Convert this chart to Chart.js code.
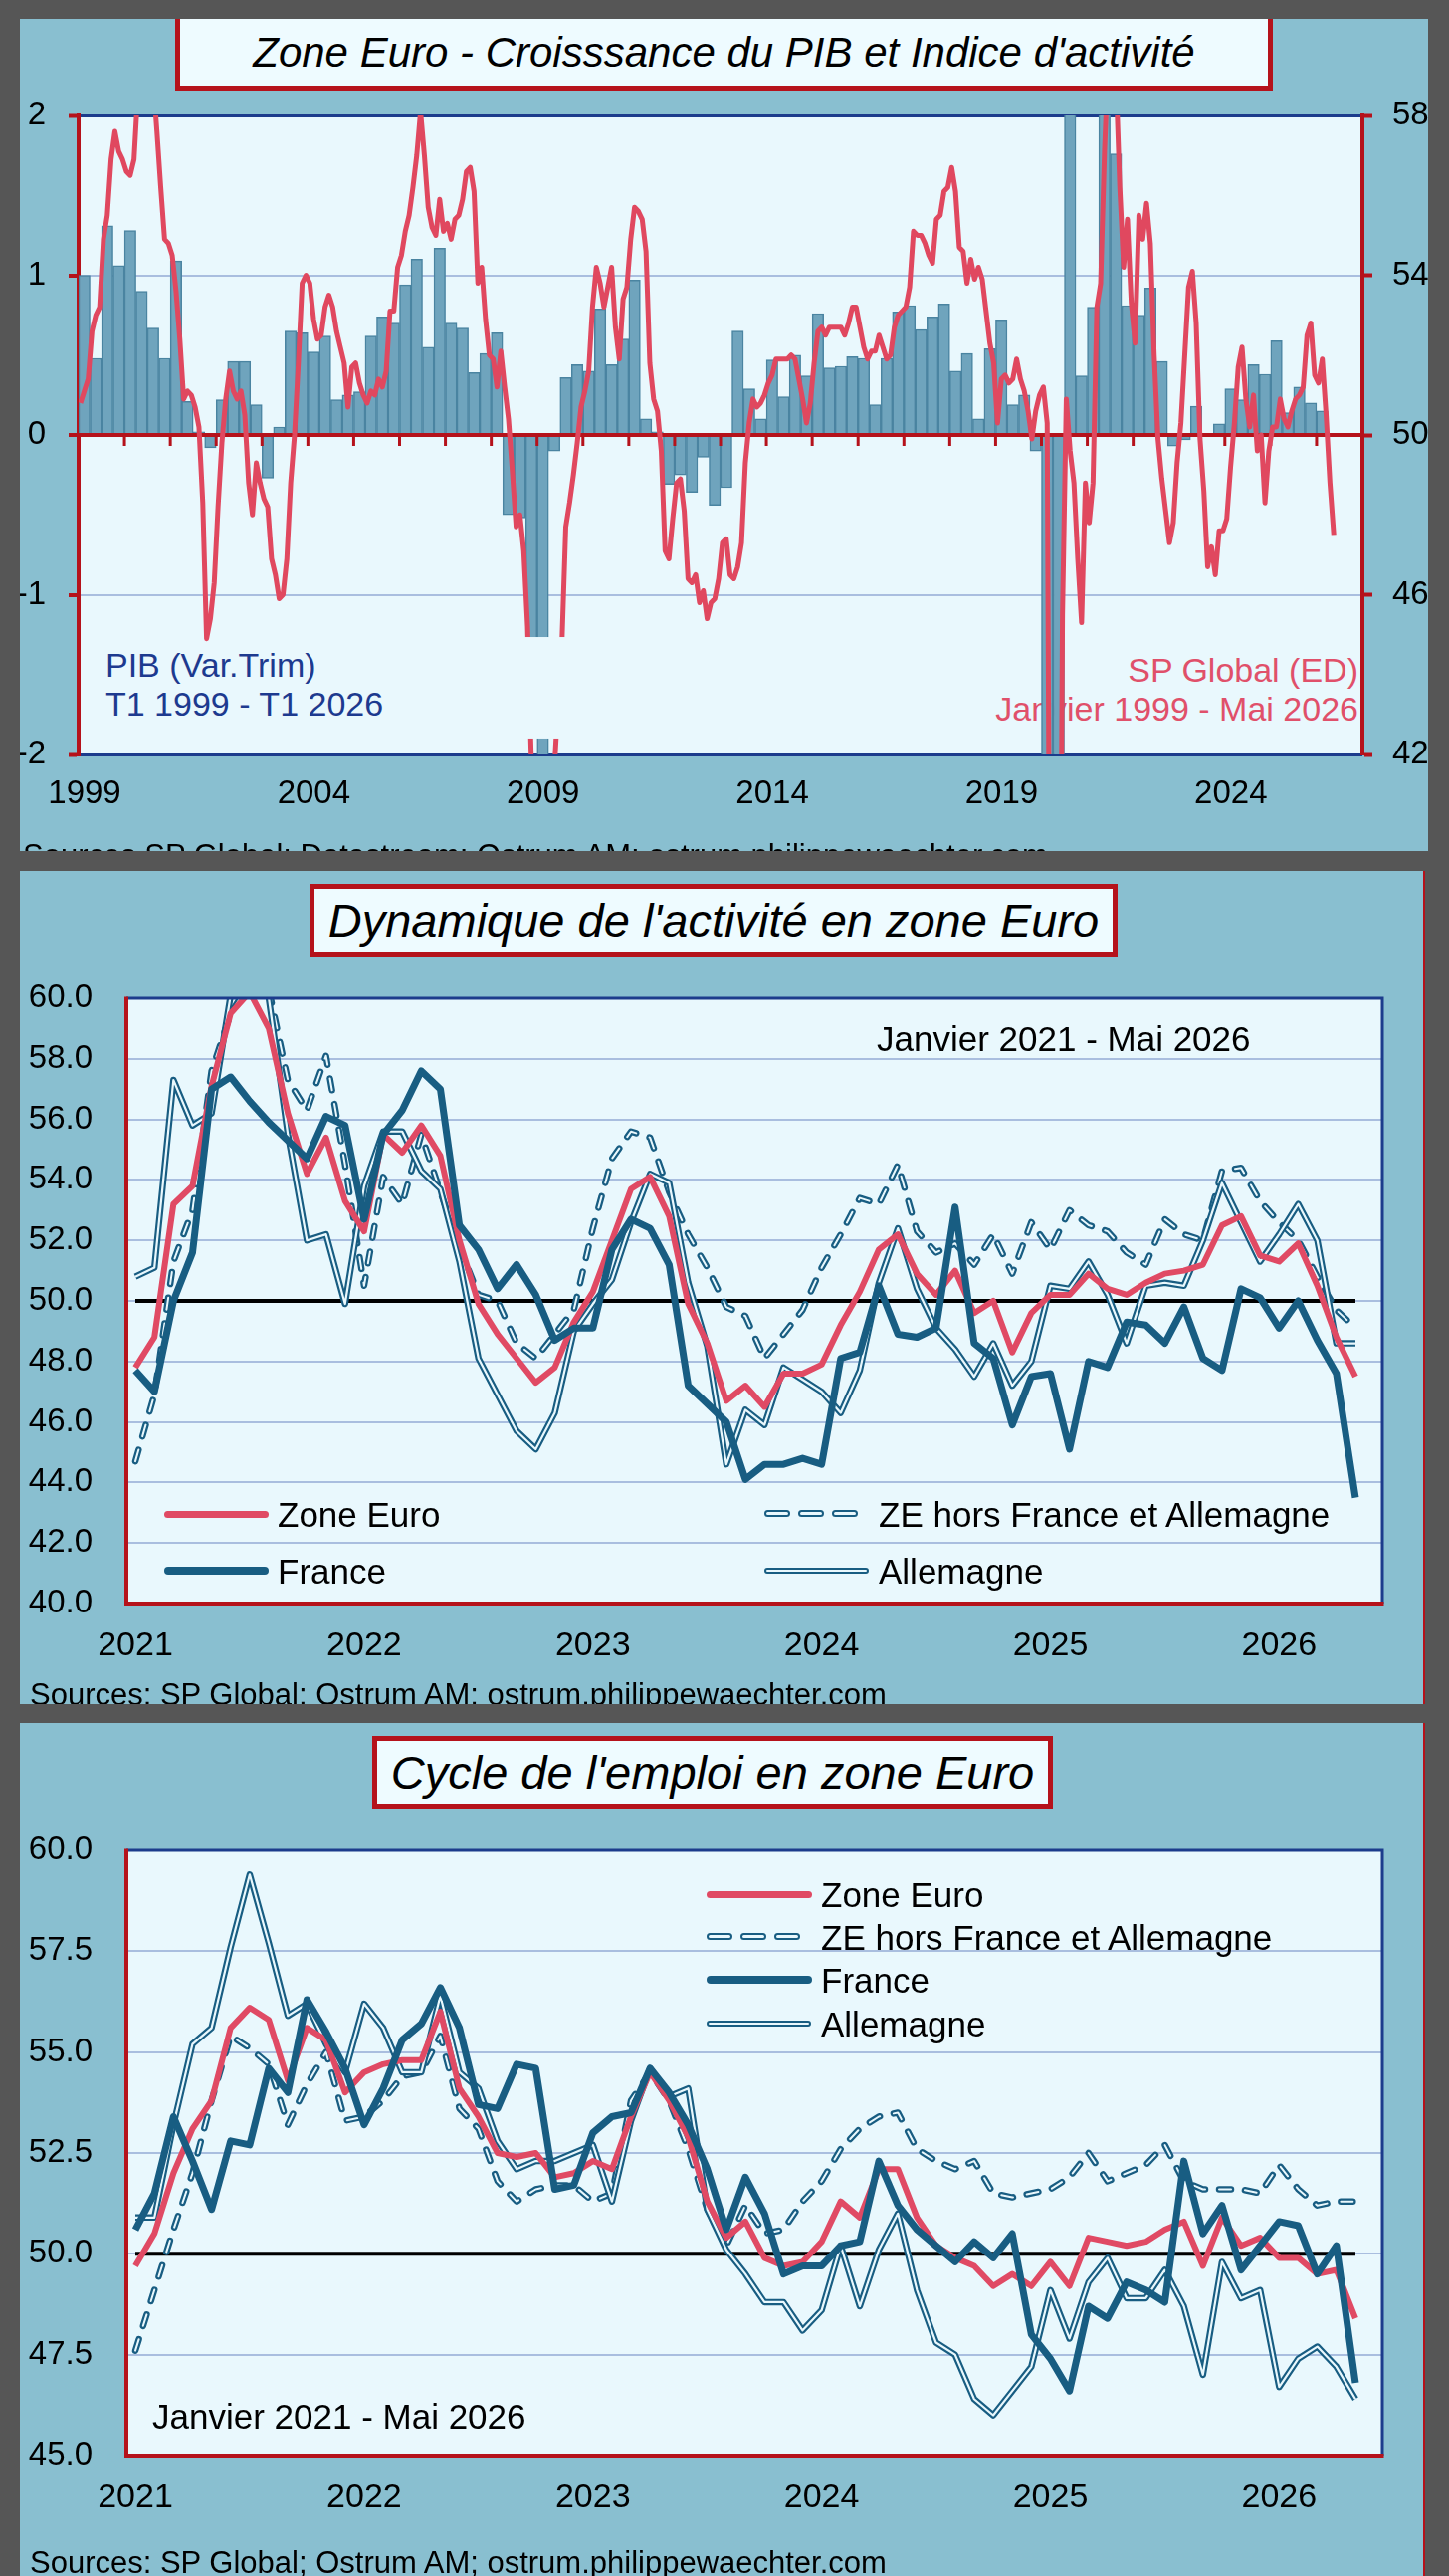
<!DOCTYPE html>
<html lang="fr">
<head>
<meta charset="utf-8">
<title>Zone Euro - PIB et indices d'activité</title>
<script src="https://cdn.jsdelivr.net/npm/chart.js@4.4.1/dist/chart.umd.min.js"></script>
<style>
  body { margin: 0; background: #565656; width: 1456px; height: 2588px; position: relative; overflow: hidden;
         font-family: "Liberation Sans", Arial, Helvetica, sans-serif; color: #000; }
  .panneau { position: absolute; left: 20px; background: #89bfd0; overflow: hidden; }
  .panneau canvas { position: absolute; left: 0; top: 0; }
  .fond { position: absolute; background: #e9f8fd; }
  .titre { position: absolute; box-sizing: border-box; background: #eefbff; border: 5px solid #b5121b;
           display: flex; align-items: center; justify-content: center; font-style: italic; white-space: nowrap; }
  .txt { position: absolute; white-space: nowrap; }
  .source { position: absolute; font-size: 31px; line-height: 31px; white-space: nowrap; }
  .leg { position: absolute; font-size: 35px; line-height: 35px; white-space: nowrap; }
  .ech { position: absolute; border-radius: 4px; }
  .double { box-sizing: content-box; height: 2px; border: 2.5px solid #185d82; background: #e9f8fd; }
  .tirets { position: absolute; display: flex; gap: 8px; }
  .tirets span { display: block; width: 22px; height: 3px; border: 2.5px solid #185d82; border-radius: 4px; background: #e9f8fd; }
</style>
</head>
<body>

<!-- Graphique 1 : PIB trimestriel et PMI composite -->
<div class="panneau" id="p1" style="top:19px;width:1415px;height:836px">
  <div class="fond" id="fond1"></div>
  <div class="txt" style="left:86px;top:630px;font-size:34px;line-height:39px;color:#1d3a8f">PIB (Var.Trim)<br>T1 1999 - T1 2026</div>
  <div class="txt" style="right:70px;top:635px;font-size:34px;line-height:39px;color:#e0506a;text-align:right">SP Global (ED)<br>Janvier 1999 - Mai 2026</div>
  <canvas id="c1" width="1415" height="836"></canvas>
  <div class="titre" style="left:156px;top:-5px;width:1103px;height:77px;font-size:42px">Zone Euro - Croisssance du PIB et Indice d'activité</div>
  <div class="source" style="left:3px;top:825px">Sources SP Global; Datastream; Ostrum AM; ostrum.philippewaechter.com</div>
</div>

<!-- Graphique 2 : PMI composite -->
<div class="panneau" id="p2" style="top:875px;width:1410px;height:837px;border-right:2px solid #b5121b">
  <div class="fond" id="fond2"></div>
  <canvas id="c2" width="1410" height="837"></canvas>
  <div class="titre" style="left:291px;top:13px;width:812px;height:73px;font-size:47px">Dynamique de l'activité en zone Euro</div>
  <div class="txt" style="left:861px;top:151px;font-size:35px;line-height:35px">Janvier 2021 - Mai 2026</div>
  <div class="ech" style="left:145px;top:642.5px;width:105px;height:7px;background:#e04a64"></div>
  <div class="leg" style="left:259px;top:629px">Zone Euro</div>
  <div class="ech" style="left:145px;top:699px;width:105px;height:8px;background:#185d82"></div>
  <div class="leg" style="left:259px;top:686px">France</div>
  <div class="tirets" style="left:748px;top:642px"><span></span><span></span><span></span></div>
  <div class="leg" style="left:863px;top:629px">ZE hors France et Allemagne</div>
  <div class="ech double" style="left:748px;top:699.5px;width:101px"></div>
  <div class="leg" style="left:863px;top:686px">Allemagne</div>
  <div class="source" style="left:10px;top:812px">Sources: SP Global; Ostrum AM; ostrum.philippewaechter.com</div>
</div>

<!-- Graphique 3 : emploi -->
<div class="panneau" id="p3" style="top:1731px;width:1410px;height:857px;border-right:2px solid #b5121b">
  <div class="fond" id="fond3"></div>
  <canvas id="c3" width="1410" height="857"></canvas>
  <div class="titre" style="left:354px;top:13px;width:684px;height:73px;font-size:47px">Cycle de l'emploi en zone Euro</div>
  <div class="txt" style="left:133px;top:679px;font-size:35px;line-height:35px">Janvier 2021 - Mai 2026</div>
  <div class="ech" style="left:690px;top:168.5px;width:106px;height:7px;background:#e04a64"></div>
  <div class="leg" style="left:805px;top:155px">Zone Euro</div>
  <div class="tirets" style="left:690px;top:211px"><span></span><span></span><span></span></div>
  <div class="leg" style="left:805px;top:198px">ZE hors France et Allemagne</div>
  <div class="ech" style="left:690px;top:254px;width:106px;height:8px;background:#185d82"></div>
  <div class="leg" style="left:805px;top:241px">France</div>
  <div class="ech double" style="left:690px;top:298.5px;width:101px"></div>
  <div class="leg" style="left:805px;top:285px">Allemagne</div>
  <div class="source" style="left:10px;top:828px">Sources: SP Global; Ostrum AM; ostrum.philippewaechter.com</div>
</div>

<script>
// ---- Données ----
// PIB zone euro, variation trimestrielle (%), T1 1999 - T1 2026
const pibTrim = [
  1.00, 0.48, 1.31, 1.06,   1.28, 0.90, 0.67, 0.48,   1.09, 0.21, 0.02, -0.08,
  0.22, 0.46, 0.46, 0.19,  -0.27, 0.05, 0.65, 0.64,   0.52, 0.62, 0.22, 0.25,
  0.27, 0.62, 0.74, 0.70,   0.94, 1.10, 0.55, 1.17,   0.70, 0.67, 0.39, 0.51,
  0.64, -0.50, -0.52, -1.70, -3.10, -0.10, 0.36, 0.44,  0.40, 0.79, 0.44, 0.60,
  0.97, 0.10, 0.02, -0.31, -0.25, -0.36, -0.14, -0.44, -0.33, 0.65, 0.29, 0.10,
  0.47, 0.24, 0.50, 0.37,   0.76, 0.42, 0.43, 0.49,   0.48, 0.19, 0.48, 0.77,
  0.81, 0.66, 0.74, 0.82,   0.40, 0.51, 0.10, 0.54,   0.72, 0.19, 0.25, -0.10,
  -3.60, -11.50, 12.50, 0.37, 0.80, 2.20, 1.76, 0.81,  0.75, 0.92, 0.46, -0.07,
  -0.03, 0.18, 0.00, 0.07,  0.29, 0.22, 0.44, 0.38,   0.59, 0.14, 0.30, 0.20,
  0.15
];

// Indice d'activité SP Global (composite), janvier 1999 - décembre 2020
const pmi1999a2020 = [
  50.8, 51.1, 51.4, 52.6, 53.0, 53.2, 54.9, 55.5, 56.9, 57.6, 57.1, 56.9,
  56.6, 56.5, 56.9, 58.6, 59.3, 59.8, 59.5, 58.9, 57.6, 56.2, 54.9, 54.8,
  54.5, 53.6, 52.4, 50.9, 51.1, 51.0, 50.7, 50.2, 48.3, 44.9, 45.4, 46.3,
  48.2, 49.8, 50.9, 51.6, 51.1, 50.9, 51.1, 50.5, 48.8, 48.0, 49.3, 48.8,
  48.4, 48.2, 46.9, 46.5, 45.9, 46.0, 46.9, 48.8, 50.0, 51.8, 53.8, 54.0,
  53.8, 52.9, 52.4, 52.5, 53.2, 53.5, 53.2, 52.6, 52.2, 51.8, 50.7, 51.7,
  51.8, 51.3, 51.0, 50.8, 51.1, 51.0, 51.4, 51.2, 51.6, 53.1, 53.1, 54.2,
  54.5, 55.1, 55.5, 56.2, 57.0, 58.1, 57.0, 55.7, 55.2, 55.0, 55.9, 55.1,
  55.3, 54.9, 55.4, 55.5, 55.9, 56.6, 56.7, 56.1, 53.8, 54.2, 52.9, 52.0,
  51.9, 51.2, 52.1, 51.2, 50.4, 49.1, 47.7, 48.0, 47.1, 45.2, 41.8, 38.5,
  38.0, 36.5, 38.0, 40.5, 41.6, 43.3, 44.8, 47.7, 48.3, 49.0, 49.8, 50.7,
  51.1, 51.6, 53.2, 54.2, 53.8, 53.2, 53.7, 54.2, 52.7, 51.9, 53.4, 53.7,
  54.9, 55.7, 55.6, 55.4, 54.6, 51.8, 50.9, 50.6, 49.6, 47.1, 46.9, 47.9,
  48.8, 48.9, 48.1, 46.4, 46.3, 46.5, 45.8, 46.1, 45.4, 45.8, 45.9, 46.4,
  47.3, 47.4, 46.5, 46.4, 46.7, 47.3, 49.3, 50.3, 50.9, 50.7, 50.8, 51.0,
  51.3, 51.5, 51.9, 51.9, 51.9, 51.9, 52.0, 51.9, 51.4, 50.9, 50.3, 50.8,
  51.8, 52.6, 52.7, 52.5, 52.7, 52.7, 52.7, 52.7, 52.5, 52.8, 53.2, 53.2,
  52.7, 52.2, 51.9, 52.1, 52.1, 52.5, 52.2, 51.9, 52.0, 52.7, 53.0, 53.1,
  53.2, 53.7, 55.1, 55.0, 55.0, 54.8, 54.5, 54.3, 55.4, 55.5, 56.1, 56.2,
  56.7, 56.1, 54.7, 54.6, 53.8, 54.4, 53.9, 54.2, 53.9, 53.1, 52.3, 51.8,
  50.3, 51.4, 51.5, 51.3, 51.4, 51.9, 51.4, 51.1, 50.6, 49.9, 50.6, 51.0,
  51.2, 50.3, 29.7, 13.6, 30.0, 45.5, 50.9, 49.6, 48.8, 46.9, 45.3, 48.8
];

// Activité (PMI composite), janvier 2021 - mai 2026
const zeActivite = [
  47.8, 48.8, 53.2, 53.8, 57.1, 59.5, 60.2, 59.0, 56.2, 54.2, 55.4, 53.3,
  52.3, 55.5, 54.9, 55.8, 54.8, 52.0, 49.9, 48.9, 48.1, 47.3, 47.8, 49.3,
  50.3, 52.0, 53.7, 54.1, 52.8, 49.9, 48.6, 46.7, 47.2, 46.5, 47.6, 47.6,
  47.9, 49.2, 50.3, 51.7, 52.2, 50.9, 50.2, 51.0, 49.6, 50.0, 48.3, 49.6,
  50.2, 50.2, 50.9, 50.4, 50.2, 50.6, 50.9, 51.0, 51.2, 52.5, 52.8, 51.5,
  51.3, 51.9, 50.5, 48.8, 47.5
];
const frActivite = [
  47.7, 47.0, 50.0, 51.6, 57.0, 57.4, 56.6, 55.9, 55.3, 54.7, 56.1, 55.8,
  52.7, 55.5, 56.3, 57.6, 57.0, 52.5, 51.7, 50.4, 51.2, 50.2, 48.7, 49.1,
  49.1, 51.7, 52.7, 52.4, 51.2, 47.2, 46.6, 46.0, 44.1, 44.6, 44.6, 44.8,
  44.6, 48.1, 48.3, 50.5, 48.9, 48.8, 49.1, 53.1, 48.6, 48.1, 45.9, 47.5,
  47.6, 45.1, 48.0, 47.8, 49.3, 49.2, 48.6, 49.8, 48.1, 47.7, 50.4, 50.1,
  49.1, 50.0, 48.7, 47.6, 43.5
];
const deActivite = [
  50.8, 51.1, 57.3, 55.8, 56.2, 60.1, 62.4, 60.0, 55.5, 52.0, 52.2, 49.9,
  53.8, 55.6, 55.6, 54.3, 53.7, 51.3, 48.1, 46.9, 45.7, 45.1, 46.3, 49.0,
  49.9, 50.7, 52.6, 54.2, 53.9, 50.6, 48.5, 44.6, 46.4, 45.9, 47.8, 47.4,
  47.0, 46.3, 47.7, 50.6, 52.4, 50.4, 49.1, 48.4, 47.5, 48.6, 47.2, 48.0,
  50.5, 50.4, 51.3, 50.2, 48.6, 50.5, 50.6, 50.5, 52.0, 53.9, 52.6, 51.3,
  52.2, 53.2, 52.0, 48.6, 48.6
];
const zeHorsActivite = [
  44.7, 46.9, 51.3, 53.0, 57.6, 59.5, 60.5, 60.3, 57.3, 56.3, 58.1, 54.5,
  50.5, 54.1, 53.2, 55.5, 53.6, 51.8, 50.2, 50.0, 48.6, 48.1, 48.9, 49.7,
  52.4, 54.7, 55.6, 55.4, 53.6, 52.2, 51.1, 49.8, 49.5, 48.1, 48.9, 49.7,
  51.1, 52.2, 53.4, 53.2, 54.5, 52.3, 51.6, 51.9, 51.2, 52.2, 50.9, 52.6,
  51.7, 53.0, 52.5, 52.3, 51.6, 51.2, 52.7, 52.2, 52.0, 54.3, 54.4, 53.3,
  52.6, 52.0, 50.8, 49.7, 49.1
];

// Emploi (PMI composite, composante emploi), janvier 2021 - mai 2026
const zeEmploi = [
  49.7, 50.5, 52.0, 53.1, 53.8, 55.6, 56.1, 55.8, 54.3, 55.6, 55.3, 54.0,
  54.5, 54.7, 54.8, 54.8, 56.0, 54.1, 53.4, 52.5, 52.4, 52.5, 51.9, 52.0,
  52.3, 52.1, 53.4, 54.5, 53.8, 52.9, 51.3, 50.4, 50.8, 49.9, 49.7, 49.8,
  50.3, 51.3, 50.9, 52.1, 52.1, 50.9, 50.2, 49.9, 49.7, 49.2, 49.5, 49.2,
  49.8, 49.2, 50.4, 50.3, 50.2, 50.3, 50.6, 50.8, 49.7, 50.9, 50.2, 50.4,
  49.9, 49.9, 49.5, 49.6, 48.4
];
const frEmploi = [
  50.6, 51.5, 53.4, 52.3, 51.1, 52.8, 52.7, 54.6, 54.0, 56.3, 55.5, 54.6,
  53.2, 54.1, 55.3, 55.7, 56.6, 55.6, 53.7, 53.6, 54.7, 54.6, 51.6, 51.7,
  53.0, 53.4, 53.5, 54.6, 54.0, 53.2, 52.1, 50.6, 51.9, 51.0, 49.5, 49.7,
  49.7, 50.2, 50.3, 52.3, 51.2, 50.6, 50.2, 49.8, 50.3, 49.9, 50.5, 48.0,
  47.4, 46.6, 48.7, 48.4, 49.3, 49.1, 48.8, 52.3, 50.5, 51.2, 49.6, 50.2,
  50.8, 50.7, 49.5, 50.2, 46.8
];
const deEmploi = [
  50.9, 50.9, 53.2, 55.2, 55.6, 57.6, 59.4, 57.7, 55.9, 56.2, 55.2, 54.5,
  56.2, 55.6, 54.5, 54.5, 56.4, 54.5, 54.1, 52.8, 52.1, 52.3, 52.3, 52.5,
  52.7, 51.3, 53.3, 54.6, 53.9, 54.1, 51.1, 50.1, 49.5, 48.8, 48.8, 48.1,
  48.6, 50.2, 48.7, 50.1, 51.0, 49.1, 47.8, 47.5, 46.4, 46.0, 46.6, 47.2,
  49.1, 47.9, 49.3, 49.9, 48.9, 48.9, 49.6, 48.7, 47.0, 49.8, 48.9, 49.1,
  46.7, 47.4, 47.7, 47.2, 46.4
];
const zeHorsEmploi = [
  47.6, 49.1, 50.6, 52.0, 53.8, 55.4, 55.1, 54.7, 53.2, 54.2, 55.0, 53.3,
  53.4, 53.8, 54.4, 54.5, 55.4, 53.6, 53.1, 51.8, 51.3, 51.6, 51.7, 51.7,
  51.3, 51.5, 53.8, 54.5, 53.8, 52.6, 51.1, 50.2, 51.2, 50.5, 50.6, 51.3,
  51.8, 52.6, 53.1, 53.4, 53.5, 52.6, 52.3, 52.1, 52.3, 51.5, 51.4, 51.5,
  51.6, 51.9, 52.5, 51.8, 52.0, 52.2, 52.7, 51.8, 51.6, 51.6, 51.6, 51.5,
  52.2, 51.6, 51.2, 51.3, 51.3
];

const anneesPib = ['1999', '2004', '2009', '2014', '2019', '2024'];
const anneesMois = ['2021', '2022', '2023', '2024', '2025', '2026'];
const seuil = 50;

// indice complet 1999 - mai 2026
const pmiComposite = pmi1999a2020.concat(zeActivite);

// ---- Styles ----
const rouge = '#b5121b';
const marine = '#1c3c8c';
const grille = '#a9bedf';
const bleuSerie = '#185d82';
const rougeSerie = '#e04a64';
const fondTrace = '#e9f8fd';
const transparent = 'rgba(0,0,0,0)';

Chart.defaults.font.family = '"Liberation Sans", Arial, Helvetica, sans-serif';
Chart.defaults.color = '#000';

// le fond de la zone de tracé est un div sous le canvas (le texte passe dessous les séries)
const fondZone = {
  id: 'fondZone',
  afterLayout(chart, args, opts) {
    const a = chart.chartArea;
    const el = document.getElementById(opts.cible);
    el.style.left = a.left + 'px';
    el.style.top = a.top + 'px';
    el.style.width = (a.right - a.left) + 'px';
    el.style.height = (a.bottom - a.top) + 'px';
  }
};

// axe du zéro avec graduations annuelles + rupture d'échelle 2009
const axeZero = {
  id: 'axeZero',
  beforeDatasetDraw(chart, args) {
    if (args.index !== 0) return;
    const { ctx, chartArea: a, scales: { x, y } } = chart;
    const y0 = y.getPixelForValue(0);
    ctx.save();
    ctx.strokeStyle = rouge;
    ctx.lineWidth = 4;
    ctx.beginPath();
    ctx.moveTo(a.left, y0);
    ctx.lineTo(a.right, y0);
    ctx.stroke();
    ctx.lineWidth = 3;
    for (let an = 2000; an < 2027; an++) {
      const px = x.getPixelForValue(an);
      ctx.beginPath();
      ctx.moveTo(px, y0);
      ctx.lineTo(px, y0 + 11);
      ctx.stroke();
    }
    ctx.restore();
  },
  afterDatasetsDraw(chart, args, opts) {
    const { ctx, scales: { x, y } } = chart;
    const r = opts.rupture;
    const x1 = x.getPixelForValue(r.de), x2 = x.getPixelForValue(r.a);
    const y1 = y.getPixelForValue(r.haut), y2 = y.getPixelForValue(r.bas);
    ctx.save();
    ctx.fillStyle = fondTrace;
    ctx.fillRect(x1, y1, x2 - x1, y2 - y1);
    ctx.restore();
  }
};

// cadre : haut et droite bleu, gauche et bas rouge
const cadre = {
  id: 'cadre',
  afterDatasetsDraw(chart) {
    const { ctx, chartArea: a } = chart;
    ctx.save();
    ctx.lineWidth = 3;
    ctx.strokeStyle = marine;
    ctx.beginPath();
    ctx.moveTo(a.left, a.top);
    ctx.lineTo(a.right, a.top);
    ctx.lineTo(a.right, a.bottom);
    ctx.stroke();
    ctx.lineWidth = 4;
    ctx.strokeStyle = rouge;
    ctx.beginPath();
    ctx.moveTo(a.left, a.top - 1.5);
    ctx.lineTo(a.left, a.bottom);
    ctx.lineTo(a.right + 1.5, a.bottom);
    ctx.stroke();
    ctx.restore();
  }
};

// ---- Graphique 1 ----
new Chart(document.getElementById('c1'), {
  type: 'bar',
  data: {
    datasets: [
      {
        type: 'line',
        label: 'SP Global (ED)',
        data: pmiComposite.map((v, m) => ({ x: 1999 + (m + 0.5) / 12, y: v })),
        yAxisID: 'y1',
        borderColor: '#e0485f',
        borderWidth: 5,
        borderJoinStyle: 'round',
        pointRadius: 0,
        tension: 0,
        clip: 0,
        order: 0
      },
      {
        label: 'PIB (Var.Trim)',
        data: pibTrim.map((v, q) => ({ x: 1999 + (q + 0.5) / 4, y: v })),
        yAxisID: 'y',
        backgroundColor: '#6fa4bd',
        borderColor: '#4a84a1',
        borderWidth: 1.5,
        barPercentage: 1,
        categoryPercentage: 1,
        clip: 0,
        order: 1
      }
    ]
  },
  options: {
    responsive: false,
    animation: false,
    layout: { padding: { top: 97, left: 0, right: 0, bottom: 0 } },
    plugins: {
      legend: { display: false },
      tooltip: { enabled: false },
      fondZone: { cible: 'fond1' },
      axeZero: { rupture: { de: 2008.66, a: 2009.7, haut: -1.265, bas: -1.9 } }
    },
    scales: {
      x: {
        type: 'linear',
        min: 1999,
        max: 2027,
        offset: false,
        grid: { display: false, drawTicks: false, offset: false },
        border: { display: false },
        afterBuildTicks: (s) => { s.ticks = anneesPib.map((a) => ({ value: +a + 0.13 })); },
        ticks: { callback: (v, i) => anneesPib[i], font: { size: 33 }, padding: 20, maxRotation: 0, autoSkip: false },
        afterFit: (s) => { s.height = 97; }
      },
      y: {
        position: 'left',
        min: -2,
        max: 2,
        ticks: { stepSize: 1, font: { size: 33 }, padding: 23 },
        grid: {
          color: (c) => Math.abs(c.tick.value) === 2 ? marine : (c.tick.value === 0 ? transparent : grille),
          lineWidth: (c) => Math.abs(c.tick.value) === 2 ? 3 : 2,
          tickColor: rouge,
          tickWidth: 4,
          tickLength: 10
        },
        border: { color: rouge, width: 4 },
        afterFit: (s) => { s.width = 59; }
      },
      y1: {
        position: 'right',
        min: 42,
        max: 58,
        ticks: { stepSize: 4, font: { size: 33 }, padding: 20 },
        grid: { drawOnChartArea: false, tickColor: rouge, tickWidth: 4, tickLength: 10 },
        border: { color: rouge, width: 4 },
        afterFit: (s) => { s.width = 66; }
      }
    }
  },
  plugins: [fondZone, axeZero]
});

// ---- Graphiques 2 et 3 ----
function seriesMensuelles(ze, fr, de, zeHors) {
  const pts = (s) => s.map((v, i) => ({ x: i, y: v }));
  const commun = { pointRadius: 0, tension: 0, clip: 0, borderJoinStyle: 'round' };
  return [
    { ...commun, label: 'France', data: pts(fr), borderColor: bleuSerie, borderWidth: 7, order: 1 },
    { ...commun, label: 'Zone Euro', data: pts(ze), borderColor: rougeSerie, borderWidth: 6, order: 2 },
    { ...commun, label: 'Allemagne', data: pts(de), borderColor: fondTrace, borderWidth: 2.2, order: 3 },
    { ...commun, label: 'Allemagne contour', data: pts(de), borderColor: bleuSerie, borderWidth: 6.5, order: 4 },
    { ...commun, label: 'ZE hors France et Allemagne', data: pts(zeHors), borderColor: fondTrace, borderWidth: 2,
      borderDash: [12, 14], borderCapStyle: 'round', order: 5 },
    { ...commun, label: 'ZE hors contour', data: pts(zeHors), borderColor: bleuSerie, borderWidth: 6.5,
      borderDash: [12, 14], borderCapStyle: 'round', order: 6 },
    { ...commun, label: 'Seuil 50', data: pts(fr.map(() => seuil)), borderColor: '#000', borderWidth: 4, order: 7 }
  ];
}

function graphiqueMensuel(idCanvas, idFond, datasets, yMin, yMax, pas, hauteurX) {
  return new Chart(document.getElementById(idCanvas), {
    type: 'line',
    data: { datasets },
    options: {
      responsive: false,
      animation: false,
      layout: { padding: { top: 128, right: 41, left: 0, bottom: 0 } },
      plugins: {
        legend: { display: false },
        tooltip: { enabled: false },
        fondZone: { cible: idFond }
      },
      scales: {
        x: {
          type: 'linear',
          min: -0.47,
          max: 65.41,
          grid: { display: false, drawTicks: false },
          border: { display: false },
          afterBuildTicks: (s) => { s.ticks = anneesMois.map((a, k) => ({ value: k * 12 })); },
          ticks: { callback: (v, i) => anneesMois[i], font: { size: 34 }, padding: 22, maxRotation: 0, autoSkip: false },
          afterFit: (s) => { s.height = hauteurX; }
        },
        y: {
          min: yMin,
          max: yMax,
          ticks: { stepSize: pas, callback: (v) => v.toFixed(1), font: { size: 33 }, padding: 34 },
          grid: {
            color: (c) => (c.tick.value === yMin || c.tick.value === yMax) ? transparent : grille,
            lineWidth: 2,
            drawTicks: false
          },
          border: { display: false },
          afterFit: (s) => { s.width = 107; }
        }
      }
    },
    plugins: [fondZone, cadre]
  });
}

graphiqueMensuel('c2', 'fond2', seriesMensuelles(zeActivite, frActivite, deActivite, zeHorsActivite), 40, 60, 2, 101);
graphiqueMensuel('c3', 'fond3', seriesMensuelles(zeEmploi, frEmploi, deEmploi, zeHorsEmploi), 45, 60, 2.5, 121);
</script>
</body>
</html>
